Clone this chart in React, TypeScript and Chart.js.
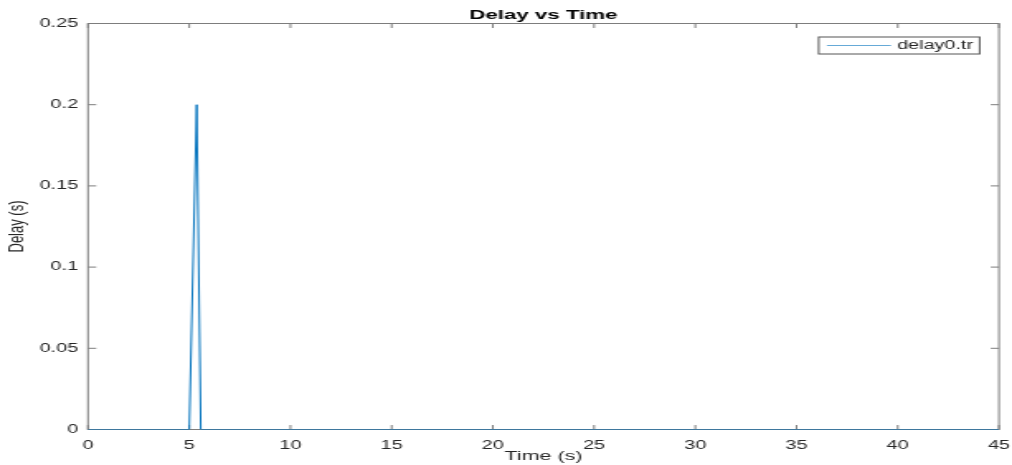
import { useEffect, useRef } from 'react';
import { Chart, registerables } from 'chart.js';

Chart.register(...registerables);

// Delay trace samples: time (s) and measured delay (s)
const timeValues = [0, 5.0, 5.37, 5.57, 45];
const delayValues = [0, 0, 0.2, 0, 0];

const xTickValues = [0, 5, 10, 15, 20, 25, 30, 35, 40, 45];
const xTickLabels = ['0', '5', '10', '15', '20', '25', '30', '35', '40', '45'];
const yTickValues = [0, 0.05, 0.1, 0.15, 0.2, 0.25];
const yTickLabels = ['0', '0.05', '0.1', '0.15', '0.2', '0.25'];

const seriesName = 'delay0.tr';
const chartTitle = 'Delay vs Time';
const xAxisTitle = 'Time (s)';
const yAxisTitle = 'Delay (s)';

const FONT = "'Liberation Sans', Arial, Helvetica, sans-serif";
const AXIS_COLOR = '#7d7d7d';
const LEGEND_EDGE = '#555555';
const TEXT_COLOR = '#262626';
const LINE_COLOR = '#0072BD';
const LEGEND_SAMPLE = 'rgba(0, 114, 189, 0.6)';

// The figure is rendered at its native width and shown widened on the page.
const RENDER_W = 613;
const RENDER_H = 465;
const SHOW_W = 1012;
const SHOW_H = 465;

// Box around the axes with inward tick marks on all four sides.
const axesFrame = {
  id: 'axesFrame',
  beforeDatasetsDraw(chart: any) {
    const { ctx, chartArea: a, scales } = chart;
    ctx.save();
    ctx.strokeStyle = AXIS_COLOR;
    ctx.lineWidth = 1;
    ctx.strokeRect(a.left, a.top, a.right - a.left, a.bottom - a.top);
    ctx.beginPath();
    for (const v of xTickValues) {
      const px = scales.x.getPixelForValue(v);
      ctx.moveTo(px, a.bottom);
      ctx.lineTo(px, a.bottom - 4.5);
      ctx.moveTo(px, a.top);
      ctx.lineTo(px, a.top + 4.5);
    }
    for (const v of yTickValues) {
      const py = scales.y.getPixelForValue(v);
      ctx.moveTo(a.left, py);
      ctx.lineTo(a.left + 5, py);
      ctx.moveTo(a.right, py);
      ctx.lineTo(a.right - 5, py);
    }
    ctx.stroke();
    ctx.restore();
  },
};

// Boxed legend in the upper-right corner of the axes.
const boxedLegend = {
  id: 'boxedLegend',
  afterDatasetsDraw(chart: any) {
    const { ctx, chartArea: a } = chart;
    const ds = chart.data.datasets[0];
    const boxW = 97.5;
    const boxH = 17;
    const boxRight = a.right - 11.7;
    const boxLeft = boxRight - boxW;
    const boxTop = a.top + 13.5;
    const midY = boxTop + boxH / 2;
    ctx.save();
    ctx.fillStyle = '#ffffff';
    ctx.fillRect(boxLeft, boxTop, boxW, boxH);
    ctx.strokeStyle = LEGEND_EDGE;
    ctx.lineWidth = 1;
    ctx.strokeRect(boxLeft, boxTop, boxW, boxH);
    ctx.strokeStyle = LEGEND_SAMPLE;
    ctx.lineWidth = 1;
    ctx.beginPath();
    ctx.moveTo(boxLeft + 5, midY);
    ctx.lineTo(boxLeft + 43.8, midY);
    ctx.stroke();
    ctx.fillStyle = TEXT_COLOR;
    ctx.font = `12px ${FONT}`;
    ctx.textAlign = 'left';
    ctx.textBaseline = 'middle';
    ctx.fillText(ds.label, boxLeft + 47.5, midY);
    ctx.restore();
  },
};

export default function App() {
  const canvasRef = useRef<HTMLCanvasElement | null>(null);

  useEffect(() => {
    const canvas = canvasRef.current;
    if (!canvas) return;
    const points = timeValues.map((t, i) => ({ x: t, y: delayValues[i] }));

    const chart = new Chart(canvas, {
      type: 'line',
      data: {
        datasets: [
          {
            label: seriesName,
            data: points,
            borderColor: LINE_COLOR,
            backgroundColor: LINE_COLOR,
            borderWidth: 1,
            pointRadius: 0,
            tension: 0,
            fill: false,
          },
        ],
      },
      options: {
        animation: false,
        responsive: false,
        maintainAspectRatio: false,
        devicePixelRatio: 1,
        events: [],
        layout: { padding: { left: 0, right: 7.9, top: 0, bottom: 0 } },
        plugins: {
          legend: { display: false },
          tooltip: { enabled: false },
          title: {
            display: true,
            text: chartTitle,
            fullSize: false,
            color: '#000000',
            font: { family: FONT, size: 13.5, weight: 'bold' },
            padding: { top: 7.3, bottom: 0 },
          },
        },
        scales: {
          x: {
            type: 'linear',
            min: 0,
            max: 45,
            grid: { display: false, drawTicks: false },
            border: { display: false },
            afterBuildTicks: (scale: any) => {
              scale.ticks = xTickValues.map((v) => ({ value: v }));
            },
            afterFit: (scale: any) => {
              scale.height = 35.5;
              // edge labels may overhang; the outer layout padding covers them
              scale.paddingLeft = 0;
              scale.paddingRight = 0;
            },
            ticks: {
              autoSkip: false,
              maxRotation: 0,
              padding: 8.5,
              color: TEXT_COLOR,
              font: { family: FONT, size: 12 },
              callback: (value: any) => xTickLabels[xTickValues.indexOf(Number(value))] ?? '',
            },
            title: {
              display: true,
              text: xAxisTitle,
              color: TEXT_COLOR,
              font: { family: FONT, size: 13 },
              padding: { top: 0, bottom: 1 },
            },
          },
          y: {
            type: 'linear',
            min: 0,
            max: 0.25,
            grid: { display: false, drawTicks: false },
            border: { display: false },
            afterBuildTicks: (scale: any) => {
              scale.ticks = yTickValues.map((v) => ({ value: v }));
            },
            afterFit: (scale: any) => {
              scale.width = 53.3;
            },
            ticks: {
              autoSkip: false,
              padding: 6,
              color: TEXT_COLOR,
              font: { family: FONT, size: 12 },
              callback: (value: any) => {
                const i = yTickValues.findIndex((v) => Math.abs(v - Number(value)) < 1e-9);
                return i >= 0 ? yTickLabels[i] : '';
              },
            },
            title: {
              display: true,
              text: yAxisTitle,
              color: TEXT_COLOR,
              font: { family: FONT, size: 13 },
              padding: { top: 2.8, bottom: 0 },
            },
          },
        },
      },
      plugins: [axesFrame, boxedLegend],
    } as any);

    return () => chart.destroy();
  }, []);

  return (
    <div style={{ position: 'absolute', left: 0, top: 0, width: SHOW_W, height: SHOW_H, background: '#ffffff' }}>
      <canvas
        ref={canvasRef}
        width={RENDER_W}
        height={RENDER_H}
        style={{ width: `${SHOW_W}px`, height: `${SHOW_H}px`, display: 'block' }}
      />
    </div>
  );
}
